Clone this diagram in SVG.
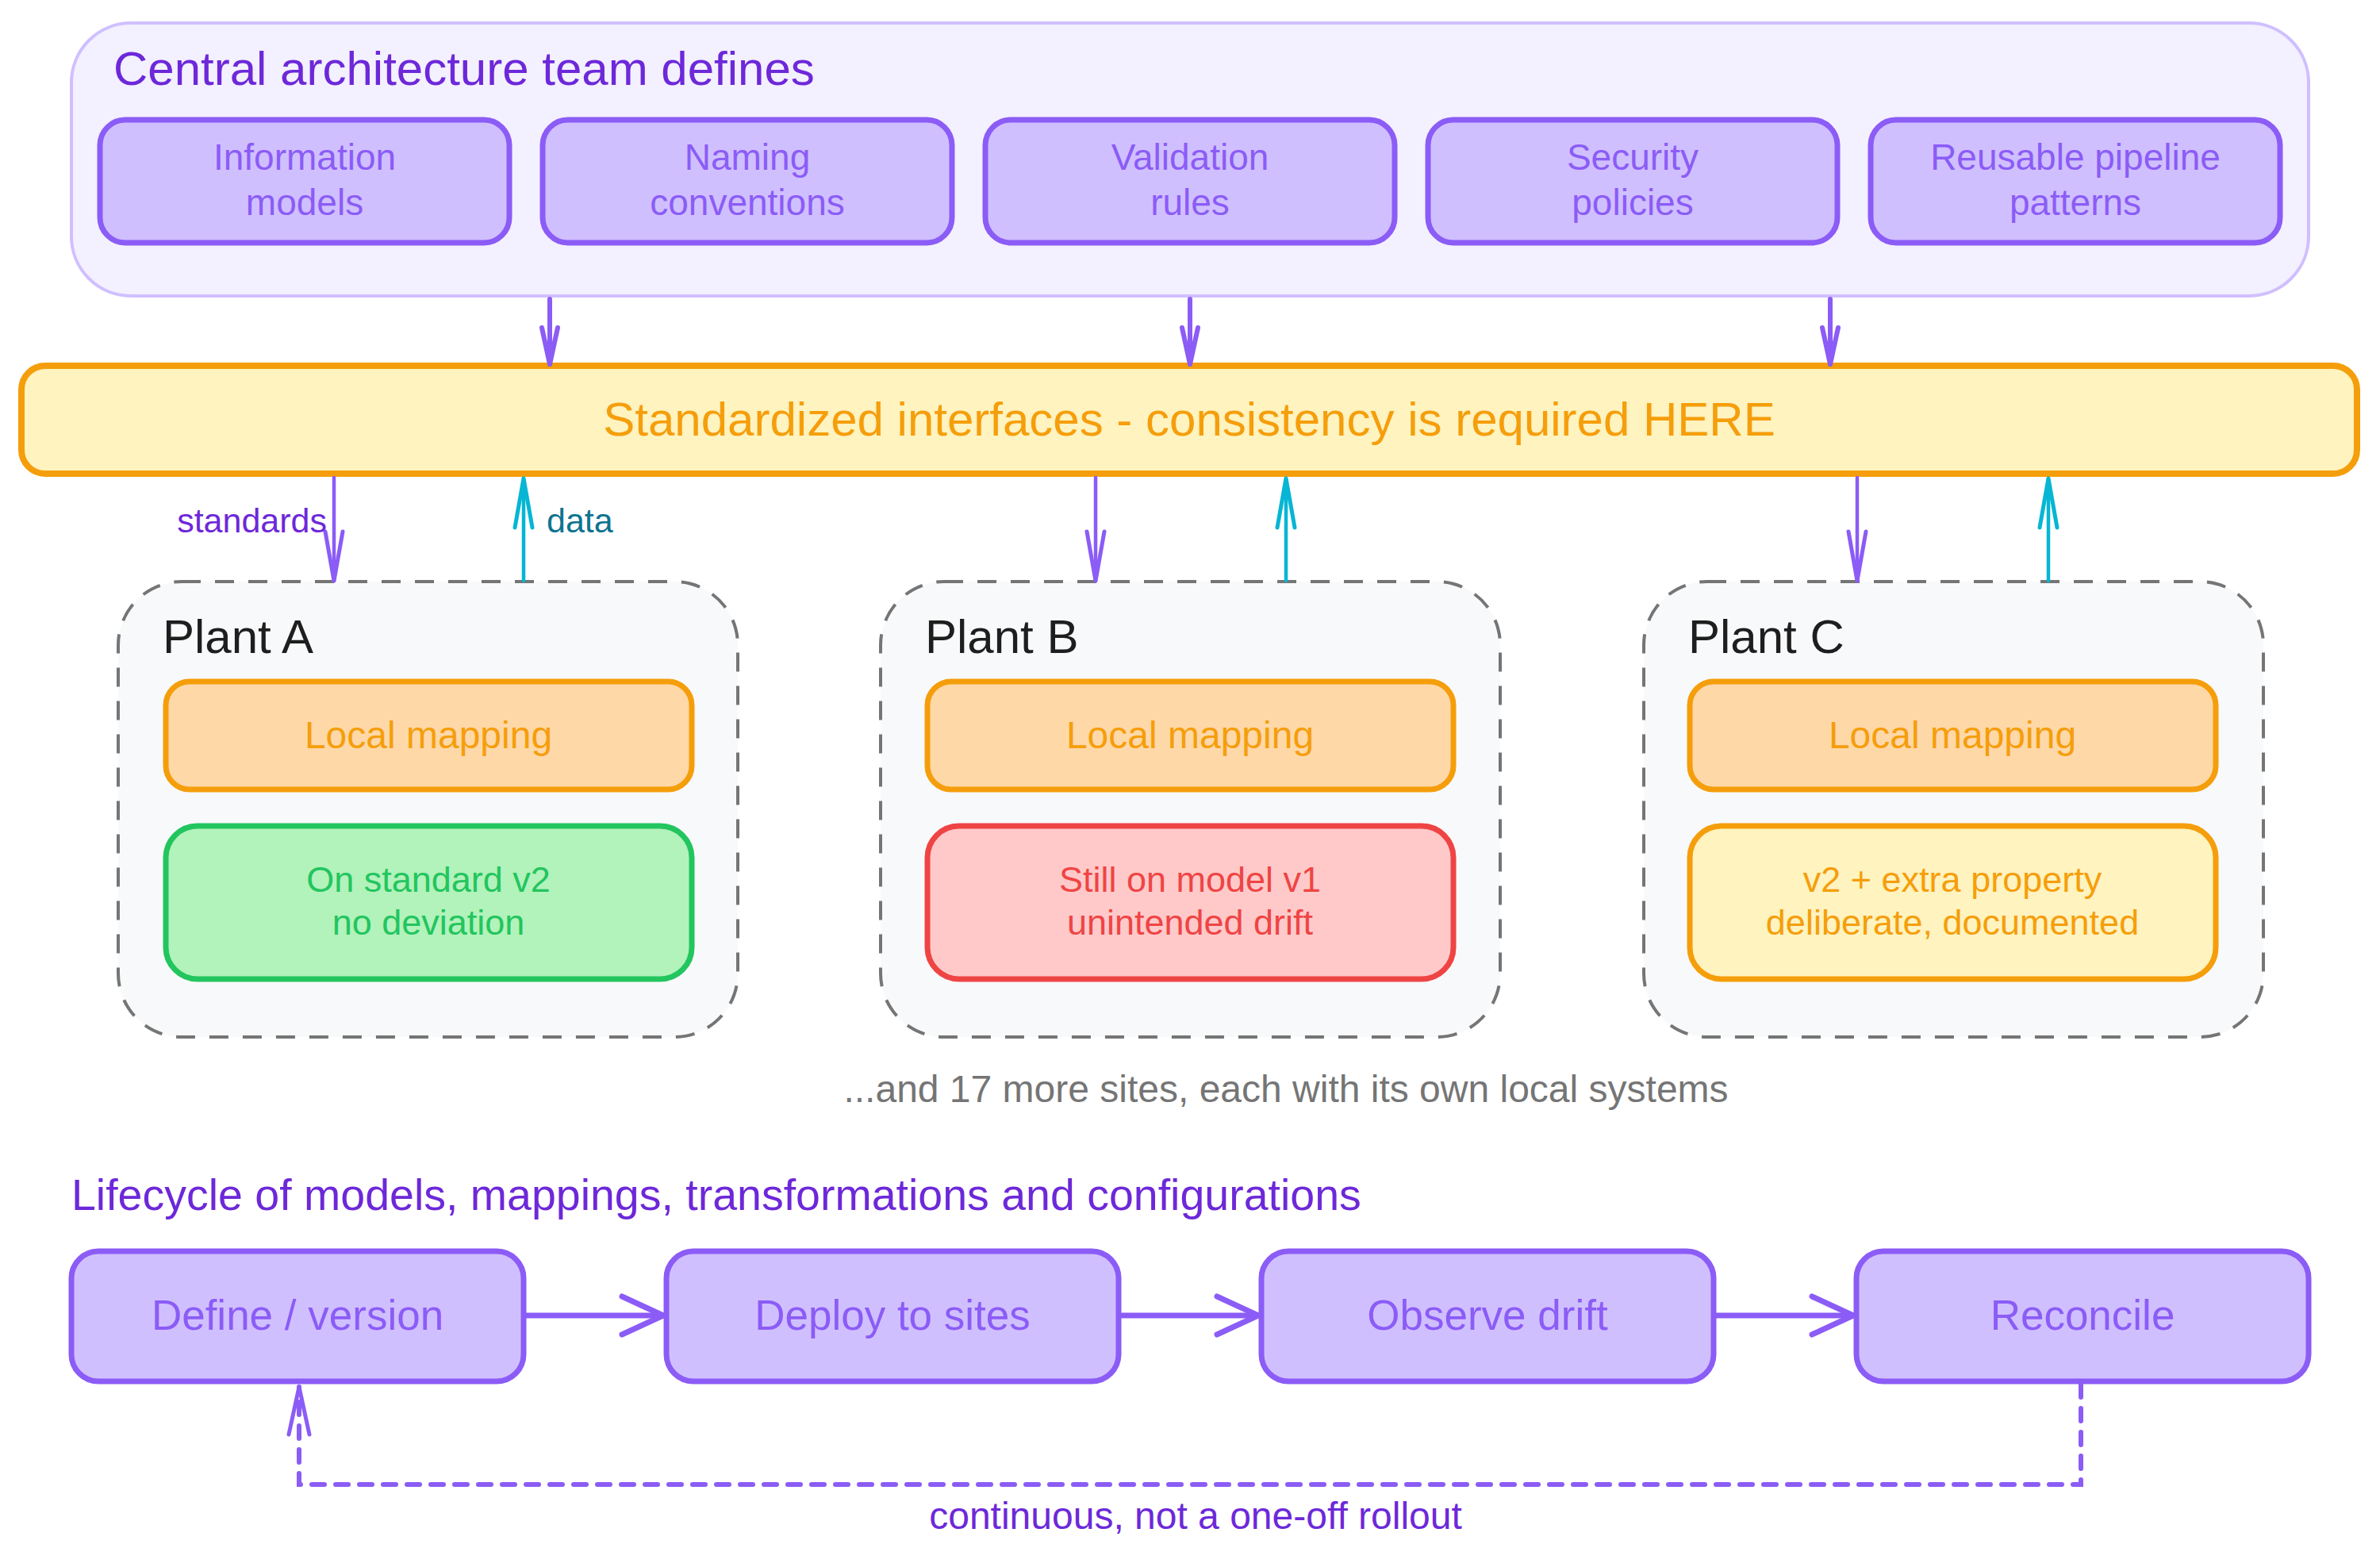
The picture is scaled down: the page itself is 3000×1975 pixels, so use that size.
<svg xmlns="http://www.w3.org/2000/svg" width="3000" height="1975" viewBox="0 0 3000 1975">
<defs>
<style>
text{font-family:"Liberation Sans",Arial,sans-serif;}
.box-p{fill:#d0bfff;stroke:#8b5cf6;stroke-width:7;}
.txt-p{fill:#8b5cf6;font-size:46px;text-anchor:middle;}
.txt-b{fill:#8b5cf6;font-size:53px;text-anchor:middle;}
.plant{fill:#f8f9fa;stroke:#757575;stroke-width:4;stroke-dasharray:24 18;}
.plant-t{fill:#1e1e1e;font-size:60px;}
.local{fill:#ffd8a8;stroke:#f59e0b;stroke-width:7;}
.local-t{fill:#f59e0b;font-size:48px;text-anchor:middle;}
.st-t{font-size:45px;text-anchor:middle;}
.conn{fill:none;stroke-linecap:round;}
</style>
<marker id="ahTop" markerUnits="userSpaceOnUse" viewBox="-70 -20 80 40" markerWidth="80" markerHeight="40" refX="0" refY="0" orient="auto" overflow="visible">
<path d="M-46,-10 L0,0 L-46,10" fill="none" stroke="#8b5cf6" stroke-width="6" stroke-linejoin="round" stroke-linecap="round"/>
</marker>
<marker id="ahPurple" markerUnits="userSpaceOnUse" viewBox="-70 -20 80 40" markerWidth="80" markerHeight="40" refX="0" refY="0" orient="auto" overflow="visible">
<path d="M-62,-11 L0,0 L-62,11" fill="none" stroke="#8b5cf6" stroke-width="5" stroke-linejoin="round" stroke-linecap="round"/>
</marker>
<marker id="ahCyan" markerUnits="userSpaceOnUse" viewBox="-70 -20 80 40" markerWidth="80" markerHeight="40" refX="0" refY="0" orient="auto" overflow="visible">
<path d="M-62,-11 L0,0 L-62,11" fill="none" stroke="#06b6d4" stroke-width="5" stroke-linejoin="round" stroke-linecap="round"/>
</marker>
<marker id="ahBottom" markerUnits="userSpaceOnUse" viewBox="-70 -30 80 60" markerWidth="80" markerHeight="60" refX="0" refY="0" orient="auto" overflow="visible">
<path d="M-52,-24 L0,0 L-52,24" fill="none" stroke="#8b5cf6" stroke-width="7" stroke-linejoin="round" stroke-linecap="round"/>
</marker>
<marker id="ahLoop" markerUnits="userSpaceOnUse" viewBox="-70 -20 80 40" markerWidth="80" markerHeight="40" refX="0" refY="0" orient="auto" overflow="visible">
<path d="M-60,-13 L0,0 L-60,13" fill="none" stroke="#8b5cf6" stroke-width="5" stroke-linejoin="round" stroke-linecap="round"/>
</marker>
</defs>
<rect width="3000" height="1975" fill="#ffffff"/>

<g id="central-team">
<rect x="90" y="29" width="2820" height="344" rx="75" fill="#f3f0ff" stroke="#d0bfff" stroke-width="4"/>
<text x="143" y="107" fill="#6d28d9" font-size="60">Central architecture team defines</text>
</g>
<g id="information-models">
<rect class="box-p" x="126" y="151" width="516" height="155" rx="32"/>
<text class="txt-p" x="384" y="214">Information</text>
<text class="txt-p" x="384" y="271">models</text>
</g>
<g id="naming-conventions">
<rect class="box-p" x="684" y="151" width="516" height="155" rx="32"/>
<text class="txt-p" x="942" y="214">Naming</text>
<text class="txt-p" x="942" y="271">conventions</text>
</g>
<g id="validation-rules">
<rect class="box-p" x="1242" y="151" width="516" height="155" rx="32"/>
<text class="txt-p" x="1500" y="214">Validation</text>
<text class="txt-p" x="1500" y="271">rules</text>
</g>
<g id="security-policies">
<rect class="box-p" x="1800" y="151" width="516" height="155" rx="32"/>
<text class="txt-p" x="2058" y="214">Security</text>
<text class="txt-p" x="2058" y="271">policies</text>
</g>
<g id="reusable-pipeline-patterns">
<rect class="box-p" x="2358" y="151" width="516" height="155" rx="32"/>
<text class="txt-p" x="2616" y="214">Reusable pipeline</text>
<text class="txt-p" x="2616" y="271">patterns</text>
</g>

<g id="standardized-interfaces">
<rect x="27" y="461" width="2944" height="136" rx="30" fill="#fff3bf" stroke="#f59e0b" stroke-width="8"/>
<text x="1499" y="549" fill="#f59e0b" font-size="60" text-anchor="middle">Standardized interfaces - consistency is required HERE</text>
</g>

<g id="plant-a">
<rect class="plant" x="149" y="733" width="781" height="574" rx="80"/>
<text class="plant-t" x="205" y="823">Plant A</text>
<rect class="local" x="209" y="859" width="663" height="136" rx="30"/>
<text class="local-t" x="540" y="943">Local mapping</text>
<rect x="209" y="1041" width="663" height="193" rx="40" fill="#b2f2bb" stroke="#22c55e" stroke-width="7"/>
<text class="st-t" fill="#22c55e" x="540" y="1124">On standard v2</text>
<text class="st-t" fill="#22c55e" x="540" y="1178">no deviation</text>
</g>
<g id="plant-b">
<rect class="plant" x="1110" y="733" width="781" height="574" rx="80"/>
<text class="plant-t" x="1166" y="823">Plant B</text>
<rect class="local" x="1169" y="859" width="663" height="136" rx="30"/>
<text class="local-t" x="1500" y="943">Local mapping</text>
<rect x="1169" y="1041" width="663" height="193" rx="40" fill="#ffc9c9" stroke="#ef4444" stroke-width="7"/>
<text class="st-t" fill="#ef4444" x="1500" y="1124">Still on model v1</text>
<text class="st-t" fill="#ef4444" x="1500" y="1178">unintended drift</text>
</g>
<g id="plant-c">
<rect class="plant" x="2072" y="733" width="781" height="574" rx="80"/>
<text class="plant-t" x="2128" y="823">Plant C</text>
<rect class="local" x="2130" y="859" width="663" height="136" rx="30"/>
<text class="local-t" x="2461" y="943">Local mapping</text>
<rect x="2130" y="1041" width="663" height="193" rx="40" fill="#fff3bf" stroke="#f59e0b" stroke-width="7"/>
<text class="st-t" fill="#f59e0b" x="2461" y="1124">v2 + extra property</text>
<text class="st-t" fill="#f59e0b" x="2461" y="1178">deliberate, documented</text>
</g>

<g id="more-sites-note">
<text x="1621" y="1389" fill="#757575" font-size="48" text-anchor="middle">...and 17 more sites, each with its own local systems</text>
</g>

<g id="lifecycle-title">
<text x="90" y="1525" fill="#6d28d9" font-size="55.5">Lifecycle of models, mappings, transformations and configurations</text>
</g>
<g id="define-version">
<rect class="box-p" x="90" y="1577" width="570" height="164" rx="34"/>
<text class="txt-b" x="375" y="1676">Define / version</text>
</g>
<g id="deploy-to-sites">
<rect class="box-p" x="840" y="1577" width="570" height="164" rx="34"/>
<text class="txt-b" x="1125" y="1676">Deploy to sites</text>
</g>
<g id="observe-drift">
<rect class="box-p" x="1590" y="1577" width="570" height="164" rx="34"/>
<text class="txt-b" x="1875" y="1676">Observe drift</text>
</g>
<g id="reconcile">
<rect class="box-p" x="2340" y="1577" width="570" height="164" rx="34"/>
<text class="txt-b" x="2625" y="1676">Reconcile</text>
</g>

<g id="connectors">
<line class="conn" x1="693" y1="377" x2="693" y2="459" stroke="#8b5cf6" stroke-width="6" marker-end="url(#ahTop)"/>
<line class="conn" x1="1500" y1="377" x2="1500" y2="459" stroke="#8b5cf6" stroke-width="6" marker-end="url(#ahTop)"/>
<line class="conn" x1="2307" y1="377" x2="2307" y2="459" stroke="#8b5cf6" stroke-width="6" marker-end="url(#ahTop)"/>

<line class="conn" x1="421" y1="602" x2="421" y2="732" stroke="#8b5cf6" stroke-width="4.5" marker-end="url(#ahPurple)"/>
<line class="conn" x1="660" y1="732" x2="660" y2="603" stroke="#06b6d4" stroke-width="4.5" marker-end="url(#ahCyan)"/>
<line class="conn" x1="1381" y1="602" x2="1381" y2="732" stroke="#8b5cf6" stroke-width="4.5" marker-end="url(#ahPurple)"/>
<line class="conn" x1="1621" y1="732" x2="1621" y2="603" stroke="#06b6d4" stroke-width="4.5" marker-end="url(#ahCyan)"/>
<line class="conn" x1="2341" y1="602" x2="2341" y2="732" stroke="#8b5cf6" stroke-width="4.5" marker-end="url(#ahPurple)"/>
<line class="conn" x1="2582" y1="732" x2="2582" y2="603" stroke="#06b6d4" stroke-width="4.5" marker-end="url(#ahCyan)"/>
<text x="412" y="671" fill="#6d28d9" font-size="43" text-anchor="end">standards</text>
<text x="689" y="671" fill="#0e7490" font-size="43">data</text>

<line class="conn" x1="664" y1="1658" x2="836" y2="1658" stroke="#8b5cf6" stroke-width="7" marker-end="url(#ahBottom)"/>
<line class="conn" x1="1414" y1="1658" x2="1586" y2="1658" stroke="#8b5cf6" stroke-width="7" marker-end="url(#ahBottom)"/>
<line class="conn" x1="2164" y1="1658" x2="2336" y2="1658" stroke="#8b5cf6" stroke-width="7" marker-end="url(#ahBottom)"/>

<path class="conn" d="M2623,1745 L2623,1871 L377,1871 L377,1748" stroke="#8b5cf6" stroke-width="6" stroke-dasharray="16 14" stroke-linecap="butt" marker-end="url(#ahLoop)"/>
<text x="1507" y="1927" fill="#6d28d9" font-size="48" text-anchor="middle">continuous, not a one-off rollout</text>
</g>
</svg>
